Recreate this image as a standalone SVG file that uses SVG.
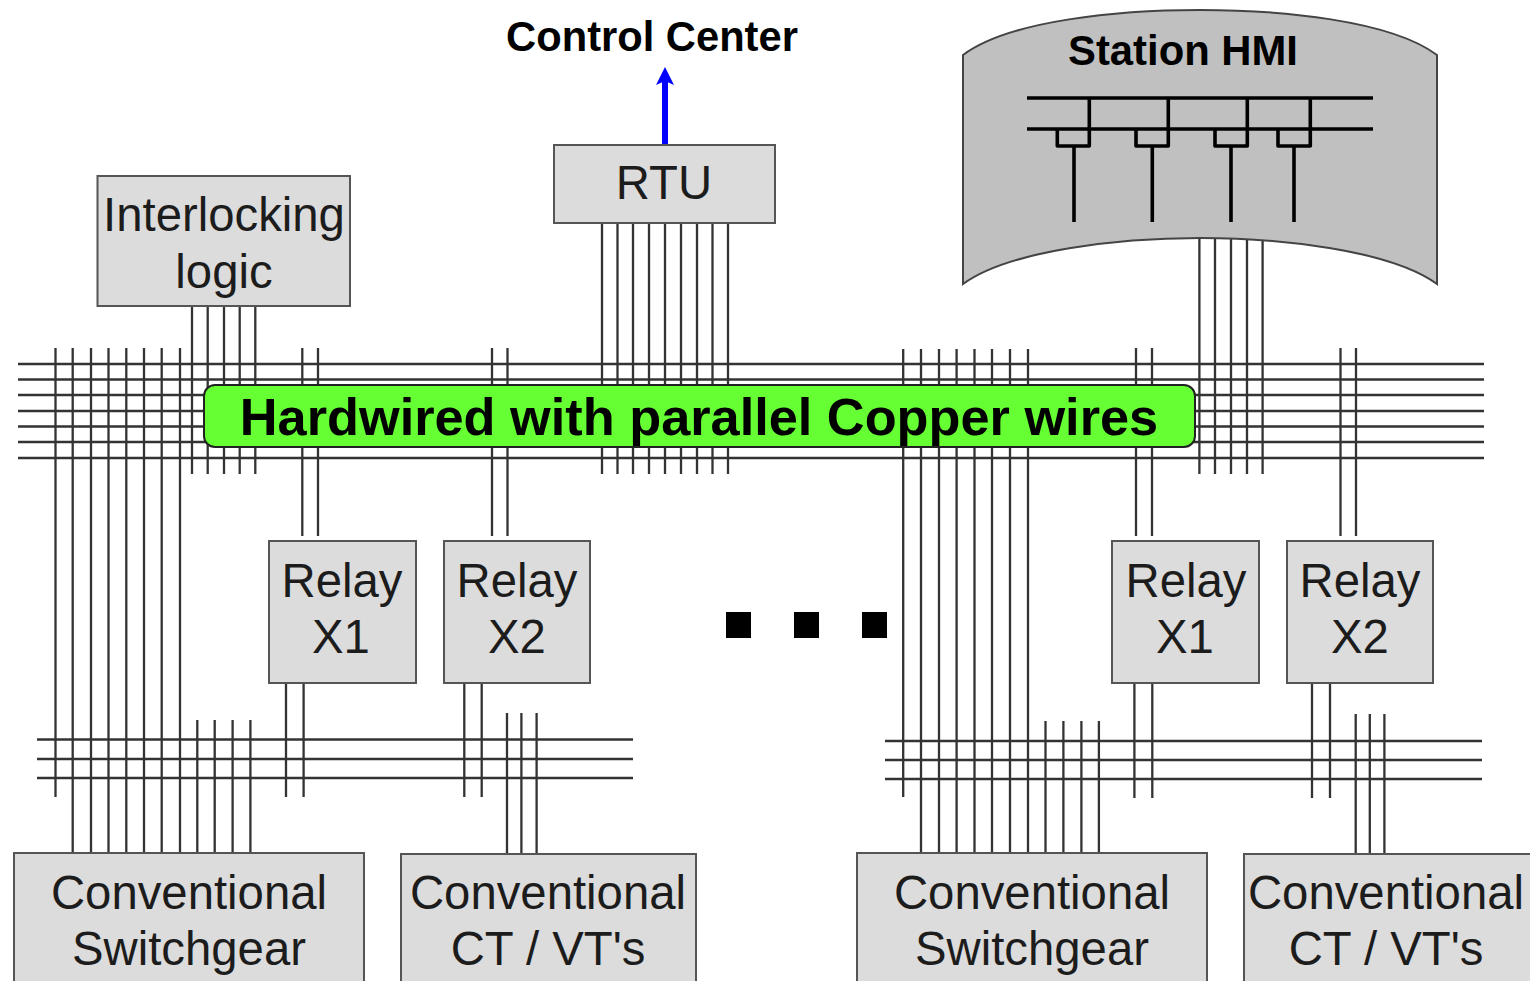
<svg xmlns="http://www.w3.org/2000/svg" width="1530" height="981" viewBox="0 0 1530 981">
<style>
text{font-family:"Liberation Sans",Arial,sans-serif;fill:#1c1c1c;text-anchor:middle}
.b{font-weight:bold;fill:#000}
.box{fill:#dcdcdc;stroke:#555;stroke-width:2}
.lbl{font-size:47.300px}
.w{fill:none;stroke:#333;stroke-width:2.300}
.bus{fill:none;stroke:#000;stroke-width:3.600;stroke-linejoin:round}
</style>
<defs>
<marker id="ah" markerUnits="userSpaceOnUse" markerWidth="18" markerHeight="20" refX="4" refY="10" orient="auto" viewBox="0 0 18 20"><path d="M0 1L18 10L0 19L4 10Z" fill="#0000ff"/></marker>
</defs>
<g id="connectors">
<path id="main-bus" class="w" d="M18 364H1484M18 379.500H1484M18 395H1484M18 411H1484M18 426.500H1484M18 442H1484M18 458H1484"/>
<path id="left-bus" class="w" d="M37 739.500H633M37 759H633M37 778H633"/>
<path id="right-bus" class="w" d="M885 741H1482M885 760H1482M885 779H1482"/>
<path id="left-gear-wires" class="w" d="M55.500 348V797M72.700 348V853M91 348V853M108.500 348V853M126.300 348V853M144 348V853M161.700 348V853M180 348V853M197.300 720V853M214.700 720V853M232.600 720V853M250.400 720V853"/>
<path id="interlock-wires" class="w" d="M192 306V474M207.700 306V474M224 306V474M239.700 306V474M255.300 306V474"/>
<path id="relay-wires-left" class="w" d="M302.300 348V536M318 348V536M492 348V536M507.500 348V536M286 683V797M303.600 683V797M464.300 683V797M481.700 683V797"/>
<path id="ct-wires-left" class="w" d="M507 713V861M521.400 713V861M536.600 713V861"/>
<path id="rtu-wires" class="w" d="M602 223V474M617.500 223V474M633 223V474M649 223V474M665 223V474M681 223V474M697 223V474M712.500 223V474M728 223V474"/>
<path id="right-gear-wires" class="w" d="M903.200 349V797M921 349V853M939 349V853M956.600 349V853M974.500 349V853M992 349V853M1010 349V853M1028 349V853M1045.500 721V853M1063.400 721V853M1081.400 721V853M1098.900 721V853"/>
<path id="relay-wires-right" class="w" d="M1136 348V536M1152 348V536M1340.500 348V536M1356 348V536M1134.400 683V798M1152.300 683V798M1312 683V798M1330 683V798"/>
<path id="ct-wires-right" class="w" d="M1355.700 714V853M1369.800 714V853M1384.400 714V853"/>
<path id="hmi-wires" class="w" d="M1199.400 230V474M1215 230V474M1231 230V474M1247 230V474M1262.600 230V474"/>
<path id="uplink" d="M665 145V81" fill="none" stroke="#0000ff" stroke-width="6" marker-end="url(#ah)"/>
</g>
<g id="control-center"><text class="b" x="652" y="51" font-size="41.700">Control Center</text></g>
<g id="station-hmi">
<path d="M963 55C1010 20 1120 10 1200 10C1280 10 1390 20 1437 55V284C1390 250 1280 238 1200 238C1120 238 1010 250 963 284Z" fill="#c0c0c0" stroke="#444" stroke-width="2"/>
<text class="b" x="1183" y="65" font-size="41.800">Station HMI</text>
<path class="bus" d="M1027 98H1373M1027 129H1373M1089.300 98V146H1057.300V129M1168.300 98V146H1136V129M1247.300 98V146H1215V129M1310.300 98V146H1278V129M1074 146V222M1152.300 146V222M1231 146V222M1294 146V222"/>
</g>
<g id="interlocking-logic"><rect class="box" x="97.500" y="176" width="252.500" height="130"/><text class="lbl" x="224" y="231">Interlocking</text><text class="lbl" x="224" y="288">logic</text></g>
<g id="rtu"><rect class="box" x="554" y="145" width="221" height="78"/><text class="lbl" x="664" y="199">RTU</text></g>
<g id="relay-x1-left"><rect class="box" x="269" y="541" width="147" height="142"/><text class="lbl" x="342" y="597">Relay</text><text class="lbl" x="341" y="653">X1</text></g>
<g id="relay-x2-left"><rect class="box" x="444" y="541" width="146" height="142"/><text class="lbl" x="517" y="597">Relay</text><text class="lbl" x="517" y="653">X2</text></g>
<g id="relay-x1-right"><rect class="box" x="1112" y="541" width="147" height="142"/><text class="lbl" x="1186" y="597">Relay</text><text class="lbl" x="1185" y="653">X1</text></g>
<g id="relay-x2-right"><rect class="box" x="1287" y="541" width="146" height="142"/><text class="lbl" x="1360" y="597">Relay</text><text class="lbl" x="1360" y="653">X2</text></g>
<g id="switchgear-left"><rect class="box" x="14" y="853" width="350" height="140"/><text class="lbl" x="189" y="909">Conventional</text><text class="lbl" x="189" y="965">Switchgear</text></g>
<g id="ct-vt-left"><rect class="box" x="401" y="854" width="295" height="140"/><text class="lbl" x="548" y="909">Conventional</text><text class="lbl" x="548" y="965">CT / VT's</text></g>
<g id="switchgear-right"><rect class="box" x="857" y="853" width="350" height="140"/><text class="lbl" x="1032" y="909">Conventional</text><text class="lbl" x="1032" y="965">Switchgear</text></g>
<g id="ct-vt-right"><rect class="box" x="1244" y="854" width="295" height="140"/><text class="lbl" x="1386" y="909">Conventional</text><text class="lbl" x="1386" y="965">CT / VT's</text></g>
<g id="ellipsis"><rect x="726" y="612" width="25" height="26"/><rect x="794" y="612" width="25" height="26"/><rect x="862" y="612" width="25" height="26"/></g>
<g id="hardwired-banner"><rect x="204" y="385" width="991" height="62" rx="11" fill="#66ff33" stroke="#222" stroke-width="2"/><text class="b" x="699" y="435" font-size="52.300">Hardwired with parallel Copper wires</text></g>
</svg>
